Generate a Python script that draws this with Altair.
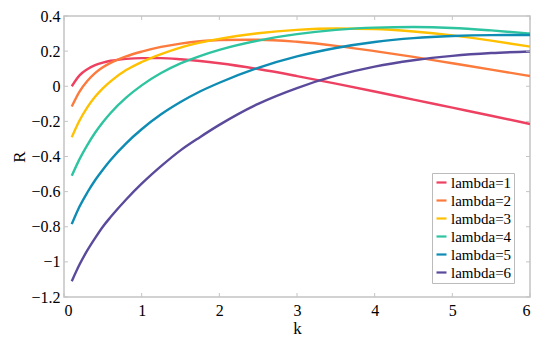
import altair as alt
import pandas as pd

k_values = [0.1, 0.2, 0.3, 0.4, 0.5, 0.6, 0.8, 1.0, 1.25, 1.5, 1.75, 2.0,
            2.5, 3.0, 3.5, 4.0, 4.5, 5.0, 5.5, 6.0]

r_lambda1 = [0.0, 0.062, 0.097, 0.12, 0.135, 0.145, 0.156, 0.160, 0.160, 0.154,
             0.144, 0.131, 0.098, 0.058, 0.015, -0.03, -0.076, -0.122, -0.168, -0.215]
r_lambda2 = [-0.115, -0.03, 0.03, 0.075, 0.108, 0.133, 0.170, 0.197, 0.224, 0.243,
             0.256, 0.263, 0.265, 0.253, 0.23, 0.20, 0.167, 0.131, 0.095, 0.058]
r_lambda3 = [-0.29, -0.195, -0.12, -0.06, -0.012, 0.028, 0.092, 0.138, 0.183, 0.22,
             0.248, 0.27, 0.302, 0.321, 0.329, 0.326, 0.312, 0.29, 0.26, 0.226]
r_lambda4 = [-0.51, -0.415, -0.335, -0.265, -0.205, -0.152, -0.065, 0.005, 0.075, 0.13,
             0.172, 0.207, 0.26, 0.297, 0.321, 0.334, 0.337, 0.332, 0.318, 0.30]
r_lambda5 = [-0.785, -0.685, -0.605, -0.535, -0.475, -0.42, -0.325, -0.245, -0.16, -0.09,
             -0.03, 0.02, 0.105, 0.17, 0.218, 0.252, 0.274, 0.286, 0.291, 0.292]
r_lambda6 = [-1.11, -1.015, -0.935, -0.865, -0.80, -0.745, -0.645, -0.555, -0.455, -0.365,
             -0.29, -0.22, -0.10, -0.01, 0.06, 0.112, 0.148, 0.173, 0.189, 0.198]

series_names = ["lambda=1", "lambda=2", "lambda=3", "lambda=4", "lambda=5", "lambda=6"]
series_colors = ["#ee4060", "#fb7a3c", "#ffc000", "#2ec4a0", "#0e8cb4", "#5b4a9c"]
x_ticks = [0, 1, 2, 3, 4, 5, 6]
y_ticks = [0.4, 0.2, 0, -0.2, -0.4, -0.6, -0.8, -1, -1.2]

all_r = [r_lambda1, r_lambda2, r_lambda3, r_lambda4, r_lambda5, r_lambda6]
rows = []
for name, rs in zip(series_names, all_r):
    for kv, rv in zip(k_values, rs):
        rows.append({"k": kv, "R": rv, "series": name})
df = pd.DataFrame(rows)

W, H = 466, 281
FONT = "Liberation Serif"
AX = "#c4c4c4"

xscale = alt.Scale(domain=[0, 6], nice=False, zero=False)
yscale = alt.Scale(domain=[-1.2, 0.4], nice=False, zero=False)
xaxis = alt.Axis(values=x_ticks, format="~g", titlePadding=2, labelPadding=5,
                 labelOverlap=False, labelFont=FONT, labelFontSize=16, labelColor="black",
                 titleFont=FONT, titleFontSize=17, titleFontWeight="normal", titleColor="black")
yaxis = alt.Axis(values=y_ticks, format="~g", titlePadding=2, labelPadding=4,
                 labelOverlap=False, labelFont=FONT, labelFontSize=16, labelColor="black",
                 titleFont=FONT, titleFontSize=17, titleFontWeight="normal", titleColor="black")

lines = alt.Chart(df).mark_line(strokeWidth=2.4, interpolate="monotone", clip=True).encode(
    x=alt.X("k:Q", scale=xscale, title="k", axis=xaxis),
    y=alt.Y("R:Q", scale=yscale, title="R", axis=yaxis),
    color=alt.Color("series:N",
                    scale=alt.Scale(domain=series_names, range=series_colors),
                    legend=alt.Legend(title=None, orient="none", legendX=368, legendY=157,
                                      symbolType="stroke", symbolSize=100, symbolStrokeWidth=2.2,
                                      labelFont=FONT, labelFontSize=15, labelColor="black",
                                      labelOffset=2, rowPadding=2, padding=2,
                                      strokeColor="#bbbbbb", fillColor="white")),
)

xt = pd.DataFrame({"k": x_ticks})
yt = pd.DataFrame({"R": y_ticks})
tick_bottom = alt.Chart(xt).mark_rule(color=AX, strokeWidth=1).encode(
    x=alt.X("k:Q", scale=xscale, title="k", axis=xaxis), y=alt.value(H), y2=alt.value(H - 4))
tick_top = alt.Chart(xt).mark_rule(color=AX, strokeWidth=1).encode(
    x=alt.X("k:Q", scale=xscale, title="k", axis=xaxis), y=alt.value(0), y2=alt.value(4))
tick_left = alt.Chart(yt).mark_rule(color=AX, strokeWidth=1).encode(
    y=alt.Y("R:Q", scale=yscale, title="R", axis=yaxis), x=alt.value(0), x2=alt.value(4))
tick_right = alt.Chart(yt).mark_rule(color=AX, strokeWidth=1).encode(
    y=alt.Y("R:Q", scale=yscale, title="R", axis=yaxis), x=alt.value(W), x2=alt.value(W - 4))

chart = alt.layer(lines, tick_bottom, tick_top, tick_left, tick_right).properties(
    width=W, height=H,
    autosize=alt.AutoSizeParams(type="none"),
    padding={"left": 56, "top": 8, "right": 12, "bottom": 41},
).configure_view(stroke=AX, strokeWidth=1.5).configure_axis(
    grid=False, ticks=False, domain=False,
)

chart.save("out.html", embed_options={"renderer": "svg", "actions": False})
